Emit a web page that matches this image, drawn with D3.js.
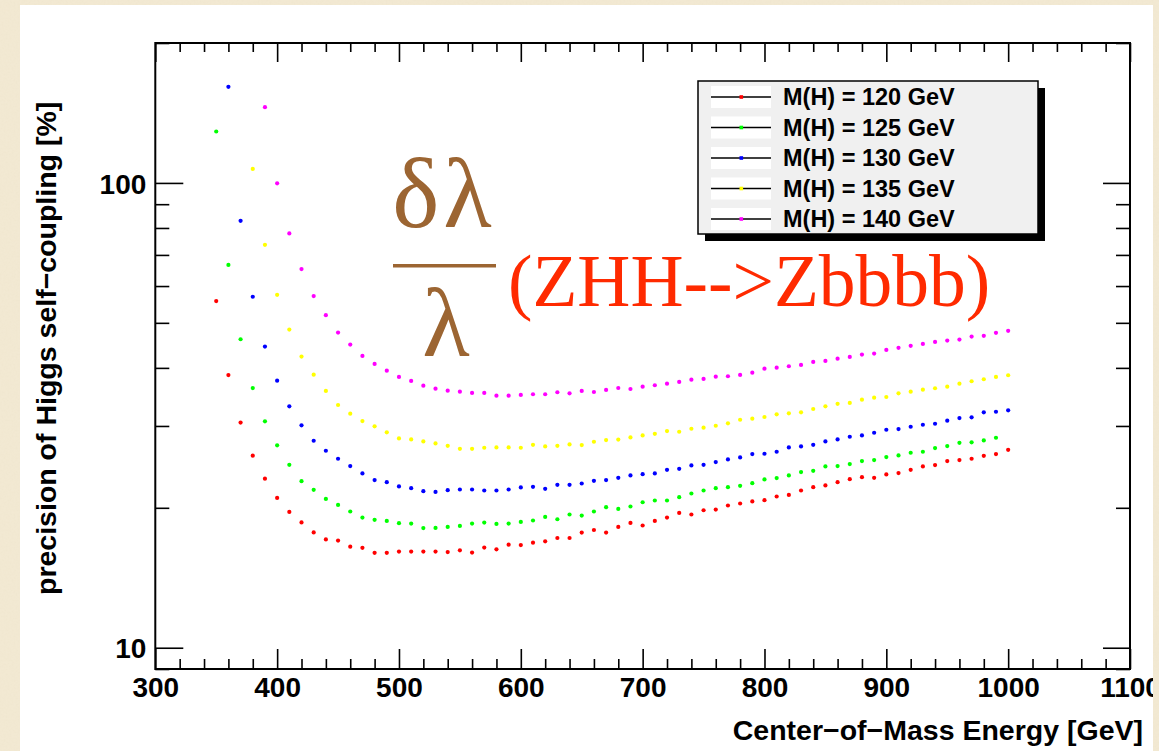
<!DOCTYPE html>
<html>
<head>
<meta charset="utf-8">
<script src="https://cdn.jsdelivr.net/npm/d3@7"></script>
<style>
  html, body { margin: 0; padding: 0; background: #f3ead4; }
  svg { display: block; }
</style>
</head>
<body>
<svg id="chart" width="1159" height="751"></svg>
<script>
// Centre-of-mass energies [GeV] of the scan points
const energies = [350, 360, 370, 380, 390, 400, 410, 420, 430, 440, 450, 460, 470, 480, 490,
  500, 510, 520, 530, 540, 550, 560, 570, 580, 590, 600, 610, 620, 630, 640, 650, 660, 670, 680, 690,
  700, 710, 720, 730, 740, 750, 760, 770, 780, 790, 800, 810, 820, 830, 840, 850, 860, 870, 880, 890,
  900, 910, 920, 930, 940, 950, 960, 970, 980, 990, 1000];

// Relative precision on the Higgs self-coupling [%], one value per energy (null = not shown)
const mh120 = [55.7, 38.6, 30.5, 25.9, 23.1, 21.0, 19.6, 18.6, 17.7, 17.1, 17.0, 16.5, 16.4, 16.0, 16.0,
  16.1, 16.1, 16.1, 16.1, 16.06, 16.2, 16.02, 16.42, 16.28, 16.66, 16.63, 16.83, 16.94, 17.22, 17.22,
  17.69, 17.92, 17.69, 18.19, 18.56, 18.32, 18.74, 19.06, 19.50, 19.35, 19.76, 19.83, 20.23, 20.43,
  20.64, 20.77, 21.15, 21.32, 21.79, 22.15, 22.34, 22.71, 23.05, 23.28, 23.20, 23.60, 23.75, 24.14,
  24.55, 24.71, 25.21, 25.33, 25.50, 25.88, 26.10, 26.66];
const mh125 = [129.0, 66.6, 46.1, 36.2, 30.7, 27.25, 24.75, 22.82, 21.86, 20.90, 20.29, 19.64, 19.06,
  18.84, 18.74, 18.53, 18.50, 18.09, 18.10, 18.19, 18.28, 18.50, 18.59, 18.47, 18.50, 18.65, 18.78,
  19.12, 18.90, 19.35, 19.25, 19.64, 20.06, 19.89, 20.13, 20.56, 20.74, 20.74, 21.08, 21.47, 21.79,
  22.04, 22.15, 22.30, 22.60, 23.02, 23.17, 23.48, 23.87, 24.02, 24.55, 24.59, 24.84, 25.21, 25.33,
  25.71, 25.93, 26.27, 26.40, 26.89, 27.15, 27.60, 27.66, 27.93, 28.30, null];
const mh130 = [null, 161.0, 82.9, 56.9, 44.45, 37.55, 33.07, 30.09, 27.88, 26.53, 25.50, 24.59, 23.71,
  22.94, 22.71, 22.23, 22.04, 21.72, 21.64, 21.83, 21.90, 21.90, 21.79, 21.79, 21.90, 22.12, 22.19,
  21.97, 22.41, 22.41, 22.56, 22.86, 22.94, 23.20, 23.48, 23.63, 23.71, 24.14, 24.26, 24.67, 24.75,
  25.08, 25.42, 25.67, 26.10, 26.14, 26.40, 26.98, 27.11, 27.33, 27.79, 28.07, 28.44, 28.63, 29.01,
  29.44, 29.54, 29.88, 30.18, 30.33, 30.79, 31.20, 31.31, 32.10, 32.19, 32.42];
const mh135 = [null, null, null, 107.2, 73.6, 57.45, 48.36, 42.30, 38.68, 35.68, 33.28, 31.88, 30.74,
  29.95, 29.07, 28.21, 28.07, 27.79, 27.52, 27.19, 26.79, 26.79, 26.93, 26.98, 26.98, 26.93, 27.33,
  27.11, 27.19, 27.38, 27.29, 27.74, 27.97, 28.04, 28.35, 28.63, 28.86, 29.25, 29.15, 29.59, 29.74,
  30.03, 30.39, 30.94, 31.10, 31.36, 31.78, 31.94, 32.10, 32.63, 33.07, 33.48, 33.62, 34.17, 34.51,
  34.63, 35.27, 35.55, 35.91, 36.16, 36.45, 36.99, 37.44, 37.81, 38.25, 38.57];
const mh140 = [null, null, null, null, 145.5, 99.8, 77.85, 65.26, 57.08, 51.94, 47.65, 44.90, 42.45,
  40.79, 39.46, 38.25, 37.49, 36.63, 36.09, 35.73, 35.55, 35.33, 35.33, 34.86, 34.86, 34.98, 35.10,
  35.10, 35.45, 35.27, 35.68, 35.50, 35.86, 36.21, 36.03, 36.45, 36.70, 36.99, 37.31, 37.74, 37.87,
  38.30, 38.38, 38.63, 39.07, 39.85, 40.05, 40.33, 40.60, 41.20, 41.41, 41.86, 42.24, 42.72, 42.94,
  43.73, 44.17, 44.61, 45.05, 45.50, 45.80, 46.02, 46.71, 46.88, 47.58, 48.05];

const seriesNames = ["M(H) = 120 GeV", "M(H) = 125 GeV", "M(H) = 130 GeV", "M(H) = 135 GeV", "M(H) = 140 GeV"];
const seriesValues = [mh120, mh125, mh130, mh135, mh140];
const seriesColors = ["#ff0000", "#00ff00", "#0000ff", "#ffff00", "#ff00ff"];

const xMajorTicks = [300, 400, 500, 600, 700, 800, 900, 1000, 1100];
const yLabelTicks = [10, 100];
const yMinorTicks = [9, 20, 30, 40, 50, 60, 70, 80, 90, 200];

const svg = d3.select("#chart");
const W = 1159, H = 751;

// parchment background with a light grain
const defs = svg.append("defs");
const grain = defs.append("filter").attr("id", "grain").attr("x", 0).attr("y", 0).attr("width", "100%").attr("height", "100%");
grain.append("feTurbulence").attr("type", "fractalNoise").attr("baseFrequency", 0.5).attr("numOctaves", 2).attr("seed", 4).attr("result", "n");
grain.append("feColorMatrix").attr("in", "n").attr("type", "matrix")
  .attr("values", "0 0 0 0 0.62  0 0 0 0 0.52  0 0 0 0 0.32  0 0 0 0.18 0");
svg.append("rect").attr("width", W).attr("height", H).attr("fill", "#f3ead4");
svg.append("rect").attr("width", W).attr("height", H).attr("filter", "url(#grain)").attr("opacity", 0.45);

// white canvas of the plot
const panel = { x: 20, y: 5, w: 1133, h: 760 };
defs.append("clipPath").attr("id", "panelClip").append("rect")
  .attr("x", panel.x).attr("y", panel.y).attr("width", panel.w).attr("height", panel.h);
svg.append("rect").attr("x", panel.x).attr("y", panel.y).attr("width", panel.w).attr("height", panel.h).attr("fill", "#ffffff");

const g = svg.append("g").attr("clip-path", "url(#panelClip)");

const frame = { left: 155.3, right: 1130, top: 43, bottom: 669 };
const x = d3.scaleLinear().domain([300, 1100]).range([frame.left, frame.right]);
const y = d3.scaleLog().domain([9, 200]).range([frame.bottom, frame.top]);

const xMinorTicks = d3.range(300, 1101, 20).filter(v => v % 100 !== 0);

const font = "'Liberation Sans', Arial, Helvetica, sans-serif";

function styleAxis(sel) {
  sel.select(".domain").remove();
  sel.selectAll(".tick line").attr("stroke", "#000").attr("stroke-width", 1.6);
}

// bottom axis
g.append("g").attr("transform", `translate(0,${frame.bottom})`)
  .call(d3.axisBottom(x).tickValues(xMajorTicks).tickSizeInner(-20).tickSizeOuter(0).tickPadding(28).tickFormat(d3.format("d")))
  .call(styleAxis)
  .call(a => a.selectAll(".tick text").attr("font-family", font).attr("font-weight", "bold").attr("font-size", 28).attr("fill", "#000").attr("dy", 0));
g.append("g").attr("transform", `translate(0,${frame.bottom})`)
  .call(d3.axisBottom(x).tickValues(xMinorTicks).tickSizeInner(-10).tickSizeOuter(0).tickFormat(""))
  .call(styleAxis);
// top axis
g.append("g").attr("transform", `translate(0,${frame.top})`)
  .call(d3.axisTop(x).tickValues(xMajorTicks).tickSizeInner(-19).tickSizeOuter(0).tickFormat(""))
  .call(styleAxis);
g.append("g").attr("transform", `translate(0,${frame.top})`)
  .call(d3.axisTop(x).tickValues(xMinorTicks).tickSizeInner(-9).tickSizeOuter(0).tickFormat(""))
  .call(styleAxis);
// left axis
g.append("g").attr("transform", `translate(${frame.left},0)`)
  .call(d3.axisLeft(y).tickValues(yLabelTicks).tickSizeInner(-28).tickSizeOuter(0).tickPadding(9).tickFormat(d3.format("d")))
  .call(styleAxis)
  .call(a => a.selectAll(".tick text").attr("font-family", font).attr("font-weight", "bold").attr("font-size", 28).attr("fill", "#000").attr("dy", "0.36em"));
g.append("g").attr("transform", `translate(${frame.left},0)`)
  .call(d3.axisLeft(y).tickValues(yMinorTicks).tickSizeInner(-14).tickSizeOuter(0).tickFormat(""))
  .call(styleAxis);
// right axis
g.append("g").attr("transform", `translate(${frame.right},0)`)
  .call(d3.axisRight(y).tickValues(yLabelTicks).tickSizeInner(-27).tickSizeOuter(0).tickFormat(""))
  .call(styleAxis);
g.append("g").attr("transform", `translate(${frame.right},0)`)
  .call(d3.axisRight(y).tickValues(yMinorTicks).tickSizeInner(-14).tickSizeOuter(0).tickFormat(""))
  .call(styleAxis);

// frame
g.append("rect").attr("x", frame.left).attr("y", frame.top)
  .attr("width", frame.right - frame.left).attr("height", frame.bottom - frame.top)
  .attr("fill", "none").attr("stroke", "#000").attr("stroke-width", 2);

// axis titles
g.append("text").attr("x", 1143).attr("y", 740).attr("text-anchor", "end")
  .attr("font-family", font).attr("font-weight", "bold").attr("font-size", 28.5).attr("fill", "#000")
  .text("Center\u2212of\u2212Mass Energy [GeV]");
g.append("text").attr("transform", "translate(56,595) rotate(-90)")
  .attr("font-family", font).attr("font-weight", "bold").attr("font-size", 28.5).attr("fill", "#000")
  .text("precision of Higgs self\u2212coupling [%]");

// scan points
seriesValues.forEach((vals, si) => {
  const pts = energies.map((e, i) => ({ e, v: vals[i] })).filter(d => d.v != null);
  g.append("g").selectAll("circle").data(pts).join("circle")
    .attr("cx", d => x(d.e)).attr("cy", d => y(d.v)).attr("r", 2.1)
    .attr("fill", seriesColors[si]);
});

// formula annotation: delta-lambda over lambda
const brown = "#9c6532";
const serif = "'Liberation Serif', 'Times New Roman', serif";
g.append("text").attr("x", 444).attr("y", 227).attr("text-anchor", "middle")
  .attr("font-family", serif).attr("font-size", 100).attr("fill", brown)
  .attr("letter-spacing", 4)
  .text("\u03b4\u03bb");
g.append("rect").attr("x", 393).attr("y", 264).attr("width", 103).attr("height", 3.5).attr("fill", brown);
g.append("text").attr("x", 446).attr("y", 356).attr("text-anchor", "middle")
  .attr("font-family", serif).attr("font-size", 98).attr("fill", brown)
  .text("\u03bb");
g.append("text").attr("x", 508).attr("y", 306)
  .attr("font-family", serif).attr("font-size", 73.5).attr("fill", "#ff2a00")
  .text("(ZHH-->Zbbbb)");

// legend
const lg = { x: 698, y: 81, w: 340, h: 153, rowH: 30.5, first: 97 };
g.append("rect").attr("x", lg.x + 7).attr("y", lg.y + 7).attr("width", lg.w).attr("height", lg.h).attr("fill", "#000");
g.append("rect").attr("x", lg.x).attr("y", lg.y).attr("width", lg.w).attr("height", lg.h)
  .attr("fill", "#f0f0f0").attr("stroke", "#000").attr("stroke-width", 1.5);
const rows = g.append("g").selectAll("g").data(seriesNames).join("g")
  .attr("transform", (d, i) => `translate(0,${lg.first + i * lg.rowH})`);
rows.append("rect").attr("x", 711).attr("y", -11).attr("width", 60).attr("height", 22).attr("fill", "#fff");
rows.append("line").attr("x1", 711).attr("x2", 771).attr("stroke", "#000").attr("stroke-width", 1.5);
rows.append("rect").attr("x", 739.5).attr("y", -1.8).attr("width", 3.6).attr("height", 3.6)
  .attr("fill", (d, i) => seriesColors[i]);
rows.append("text").attr("x", 783).attr("y", 8).attr("font-family", font).attr("font-weight", "bold")
  .attr("font-size", 23.5).attr("fill", "#000").text(d => d);
</script>
</body>
</html>
